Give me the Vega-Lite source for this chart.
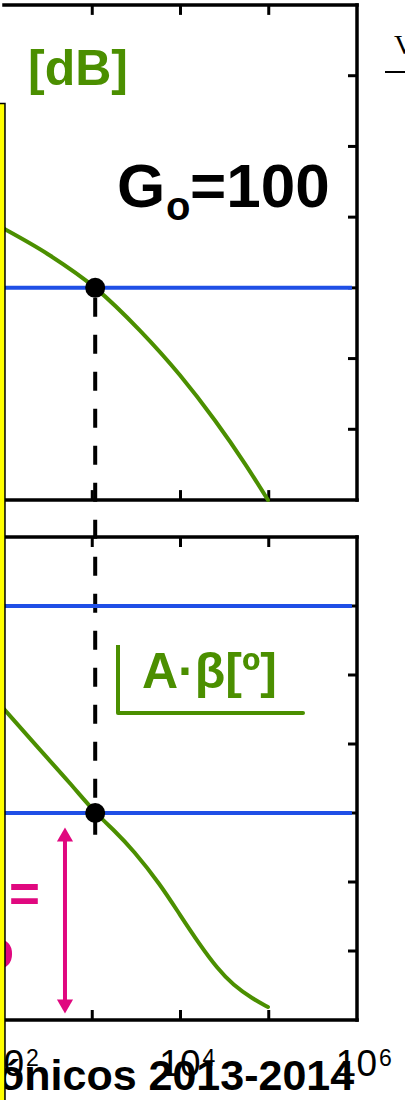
{
  "$schema": "https://vega.github.io/schema/vega-lite/v6.json",
  "width": 405,
  "height": 1100,
  "autosize": {"type": "none"},
  "padding": 0,
  "background": "white",
  "config": {"view": {"stroke": null}, "font": "Liberation Sans"},
  "datasets": {
    "magnitude": [
      {"f": 100, "db": 16.7},
      {"f": 332, "db": 9.15},
      {"f": 1080, "db": 0},
      {"f": 3476, "db": -12.09},
      {"f": 9870, "db": -24.73},
      {"f": 24590, "db": -37.52},
      {"f": 53820, "db": -49.76},
      {"f": 98000, "db": -60}
    ],
    "phase": [
      {"f": 100, "deg": -89.6},
      {"f": 256, "deg": -125.2},
      {"f": 560, "deg": -153.9},
      {"f": 1080, "deg": -180},
      {"f": 1811, "deg": -195.7},
      {"f": 2896, "deg": -212.2},
      {"f": 5858, "deg": -241.7},
      {"f": 9870, "deg": -268.7},
      {"f": 16630, "deg": -294.8},
      {"f": 25930, "deg": -314.8},
      {"f": 39360, "deg": -329.6},
      {"f": 66300, "deg": -341.7},
      {"f": 98000, "deg": -348.7}
    ],
    "crossover": [{"f": 1080, "db": 0, "deg": -180}],
    "freq_ticks": [{"f": 1000}, {"f": 10000}, {"f": 100000}],
    "db_ticks": [{"db": 60}, {"db": 40}, {"db": 20}, {"db": 0}, {"db": -20}, {"db": -40}],
    "deg_ticks": [{"deg": 0}, {"deg": -60}, {"deg": -120}, {"deg": -180}, {"deg": -240}, {"deg": -300}],
    "decades": [
      {"f": 100, "base": "10", "exp": "2"},
      {"f": 10000, "base": "10", "exp": "4"},
      {"f": 1000000, "base": "10", "exp": "6"}
    ]
  },
  "resolve": {"scale": {"y": "independent"}},
  "layer": [
    {
      "layer": [
        {
          "data": {"name": "freq_ticks"},
          "mark": {"type": "rule", "color": "black", "strokeWidth": 3},
          "encoding": {
            "x": {"field": "f", "type": "quantitative", "scale": {"type": "log", "domain": [100, 1000000], "range": [4, 357], "nice": false}, "axis": null},
            "y": {"datum": 80, "scale": {"domain": [-60, 80], "range": [500, 5], "nice": false, "zero": false}, "axis": null},
            "y2": {"datum": 77.2}
          }
        },
        {
          "data": {"name": "freq_ticks"},
          "mark": {"type": "rule", "color": "black", "strokeWidth": 3},
          "encoding": {
            "x": {"field": "f", "type": "quantitative"},
            "y": {"datum": -60},
            "y2": {"datum": -57.2}
          }
        },
        {
          "data": {"name": "db_ticks"},
          "mark": {"type": "rule", "color": "black", "strokeWidth": 3},
          "encoding": {
            "x": {"datum": 1000000},
            "x2": {"datum": 790700},
            "y": {"field": "db", "type": "quantitative"}
          }
        },
        {
          "data": {"values": [{"edge": "top", "db": 80}, {"edge": "bottom", "db": -60}]},
          "mark": {"type": "rule", "color": "black", "strokeWidth": 3.5, "strokeCap": "square"},
          "encoding": {
            "x": {"datum": 100},
            "x2": {"datum": 1000000},
            "y": {"field": "db", "type": "quantitative"}
          }
        },
        {
          "data": {"values": [{"edge": "right"}]},
          "mark": {"type": "rule", "color": "black", "strokeWidth": 3.5, "strokeCap": "square"},
          "encoding": {
            "x": {"datum": 1000000},
            "y": {"datum": -60},
            "y2": {"datum": 80}
          }
        },
        {
          "data": {"values": [{"db": 0}]},
          "mark": {"type": "rule", "color": "#1f4fe6", "strokeWidth": 4},
          "encoding": {
            "x": {"datum": 100},
            "x2": {"datum": 877000},
            "y": {"field": "db", "type": "quantitative"}
          }
        },
        {
          "data": {"name": "magnitude"},
          "mark": {"type": "line", "color": "#4b8f00", "strokeWidth": 4, "interpolate": "monotone", "strokeCap": "round"},
          "encoding": {
            "x": {"field": "f", "type": "quantitative"},
            "y": {"field": "db", "type": "quantitative"}
          }
        },
        {
          "data": {"name": "crossover"},
          "mark": {"type": "rule", "color": "black", "strokeWidth": 4, "strokeDash": [19, 18], "strokeDashOffset": 27},
          "encoding": {
            "x": {"field": "f", "type": "quantitative"},
            "y": {"field": "db", "type": "quantitative"},
            "y2": {"datum": -156}
          }
        },
        {
          "data": {"name": "crossover"},
          "mark": {"type": "point", "filled": true, "color": "black", "opacity": 1, "size": 400},
          "encoding": {
            "x": {"field": "f", "type": "quantitative"},
            "y": {"field": "db", "type": "quantitative"}
          }
        },
        {
          "data": {"values": [{"label": "[dB]"}]},
          "mark": {"type": "text", "color": "#4b8f00", "fontSize": 50, "fontWeight": "bold", "align": "left", "baseline": "alphabetic"},
          "encoding": {
            "x": {"datum": 187},
            "y": {"datum": 57.4},
            "text": {"field": "label"}
          }
        },
        {
          "data": {"values": [{"label": "G"}]},
          "mark": {"type": "text", "color": "black", "fontSize": 62, "fontWeight": "bold", "align": "left", "baseline": "alphabetic"},
          "encoding": {
            "x": {"datum": 1908},
            "y": {"datum": 22.9},
            "text": {"field": "label"}
          }
        },
        {
          "data": {"values": [{"label": "o"}]},
          "mark": {"type": "text", "color": "black", "fontSize": 40, "fontWeight": "bold", "align": "left", "baseline": "alphabetic"},
          "encoding": {
            "x": {"datum": 6850},
            "y": {"datum": 19.2},
            "text": {"field": "label"}
          }
        },
        {
          "data": {"values": [{"label": "=100"}]},
          "mark": {"type": "text", "color": "black", "fontSize": 62, "fontWeight": "bold", "align": "left", "baseline": "alphabetic"},
          "encoding": {
            "x": {"datum": 12810},
            "y": {"datum": 22.9},
            "text": {"field": "label"}
          }
        },
        {
          "data": {"values": [{"label": "V"}]},
          "mark": {"type": "text", "color": "black", "fontSize": 28, "font": "Liberation Serif", "align": "left", "baseline": "alphabetic"},
          "encoding": {
            "x": {"datum": 2620000},
            "y": {"datum": 66.1},
            "text": {"field": "label"}
          }
        },
        {
          "data": {"values": [{"db": 61.05}]},
          "mark": {"type": "rule", "color": "black", "strokeWidth": 2},
          "encoding": {
            "x": {"datum": 2075000},
            "x2": {"datum": 4000000},
            "y": {"field": "db", "type": "quantitative"}
          }
        }
      ]
    },
    {
      "layer": [
        {
          "data": {"name": "freq_ticks"},
          "mark": {"type": "rule", "color": "black", "strokeWidth": 3},
          "encoding": {
            "x": {"field": "f", "type": "quantitative", "scale": {"type": "log", "domain": [100, 1000000], "range": [4, 357], "nice": false}, "axis": null},
            "y": {"datum": 60, "scale": {"domain": [-360, 60], "range": [1020, 537], "nice": false, "zero": false}, "axis": null},
            "y2": {"datum": 51.3}
          }
        },
        {
          "data": {"name": "freq_ticks"},
          "mark": {"type": "rule", "color": "black", "strokeWidth": 3},
          "encoding": {
            "x": {"field": "f", "type": "quantitative"},
            "y": {"datum": -360},
            "y2": {"datum": -351.3}
          }
        },
        {
          "data": {"name": "deg_ticks"},
          "mark": {"type": "rule", "color": "black", "strokeWidth": 3},
          "encoding": {
            "x": {"datum": 1000000},
            "x2": {"datum": 790700},
            "y": {"field": "deg", "type": "quantitative"}
          }
        },
        {
          "data": {"values": [{"edge": "top", "deg": 60}, {"edge": "bottom", "deg": -360}]},
          "mark": {"type": "rule", "color": "black", "strokeWidth": 3.5, "strokeCap": "square"},
          "encoding": {
            "x": {"datum": 100},
            "x2": {"datum": 1000000},
            "y": {"field": "deg", "type": "quantitative"}
          }
        },
        {
          "data": {"values": [{"edge": "right"}]},
          "mark": {"type": "rule", "color": "black", "strokeWidth": 3.5, "strokeCap": "square"},
          "encoding": {
            "x": {"datum": 1000000},
            "y": {"datum": -360},
            "y2": {"datum": 60}
          }
        },
        {
          "data": {"values": [{"deg": 0}, {"deg": -180}]},
          "mark": {"type": "rule", "color": "#1f4fe6", "strokeWidth": 4},
          "encoding": {
            "x": {"datum": 100},
            "x2": {"datum": 877000},
            "y": {"field": "deg", "type": "quantitative"}
          }
        },
        {
          "data": {"name": "phase"},
          "mark": {"type": "line", "color": "#4b8f00", "strokeWidth": 4, "interpolate": "basis", "strokeCap": "round"},
          "encoding": {
            "x": {"field": "f", "type": "quantitative"},
            "y": {"field": "deg", "type": "quantitative"}
          }
        },
        {
          "data": {"name": "crossover"},
          "mark": {"type": "point", "filled": true, "color": "black", "opacity": 1, "size": 400},
          "encoding": {
            "x": {"field": "f", "type": "quantitative"},
            "y": {"field": "deg", "type": "quantitative"}
          }
        },
        {
          "data": {"values": [{"part": "stem"}]},
          "mark": {"type": "rule", "color": "#4b8f00", "strokeWidth": 4},
          "encoding": {
            "x": {"datum": 1958},
            "y": {"datum": -33.9},
            "y2": {"datum": -93}
          }
        },
        {
          "data": {"values": [{"part": "base"}]},
          "mark": {"type": "rule", "color": "#4b8f00", "strokeWidth": 4, "strokeCap": "round"},
          "encoding": {
            "x": {"datum": 1958},
            "x2": {"datum": 244400},
            "y": {"datum": -93}
          }
        },
        {
          "data": {"values": [{"label": "A·β[º]"}]},
          "mark": {"type": "text", "color": "#4b8f00", "fontSize": 50, "fontWeight": "bold", "align": "left", "baseline": "alphabetic"},
          "encoding": {
            "x": {"datum": 3662},
            "y": {"datum": -71.3},
            "text": {"field": "label"}
          }
        },
        {
          "data": {"values": [{"part": "shaft"}]},
          "mark": {"type": "rule", "color": "#e0087f", "strokeWidth": 4},
          "encoding": {
            "x": {"datum": 491},
            "y": {"datum": -198.7},
            "y2": {"datum": -348.3}
          }
        },
        {
          "data": {"values": [{"deg": -198.7, "head": "triangle-up"}, {"deg": -348.3, "head": "triangle-down"}]},
          "mark": {"type": "point", "filled": true, "color": "#e0087f", "opacity": 1, "size": 260},
          "encoding": {
            "x": {"datum": 491},
            "y": {"field": "deg", "type": "quantitative"},
            "shape": {"field": "head", "type": "nominal", "scale": null, "legend": null}
          }
        },
        {
          "data": {"values": [{"label": "="}]},
          "mark": {"type": "text", "color": "#e0087f", "fontSize": 53, "fontWeight": "bold", "align": "right", "baseline": "alphabetic"},
          "encoding": {
            "x": {"datum": 256},
            "y": {"datum": -266.1},
            "text": {"field": "label"}
          }
        },
        {
          "data": {"values": [{"label": "o"}]},
          "mark": {"type": "text", "color": "#e0087f", "fontSize": 53, "fontWeight": "bold", "align": "right", "baseline": "alphabetic"},
          "encoding": {
            "x": {"datum": 130},
            "y": {"datum": -314.8},
            "text": {"field": "label"}
          }
        },
        {
          "data": {"name": "decades"},
          "mark": {"type": "text", "color": "black", "fontSize": 37, "align": "right", "baseline": "alphabetic", "dx": 20},
          "encoding": {
            "x": {"field": "f", "type": "quantitative"},
            "y": {"datum": -408.7},
            "text": {"field": "base"}
          }
        },
        {
          "data": {"name": "decades"},
          "mark": {"type": "text", "color": "black", "fontSize": 23, "align": "left", "baseline": "alphabetic", "dx": 22},
          "encoding": {
            "x": {"field": "f", "type": "quantitative"},
            "y": {"datum": -400},
            "text": {"field": "exp"}
          }
        },
        {
          "data": {"values": [{"label": "ónicos 2013-2014"}]},
          "mark": {"type": "text", "color": "black", "fontSize": 43, "fontWeight": "bold", "align": "left", "baseline": "alphabetic"},
          "encoding": {
            "x": {"datum": 85.5},
            "y": {"datum": -420.9},
            "text": {"field": "label"}
          }
        },
        {
          "data": {"values": [{"part": "sidebar"}]},
          "mark": {"type": "rect", "fill": "#ffff00", "stroke": "black", "strokeWidth": 1.5},
          "encoding": {
            "x": {"datum": 70},
            "x2": {"datum": 102.6},
            "y": {"datum": 437},
            "y2": {"datum": -600}
          }
        }
      ]
    }
  ]
}
